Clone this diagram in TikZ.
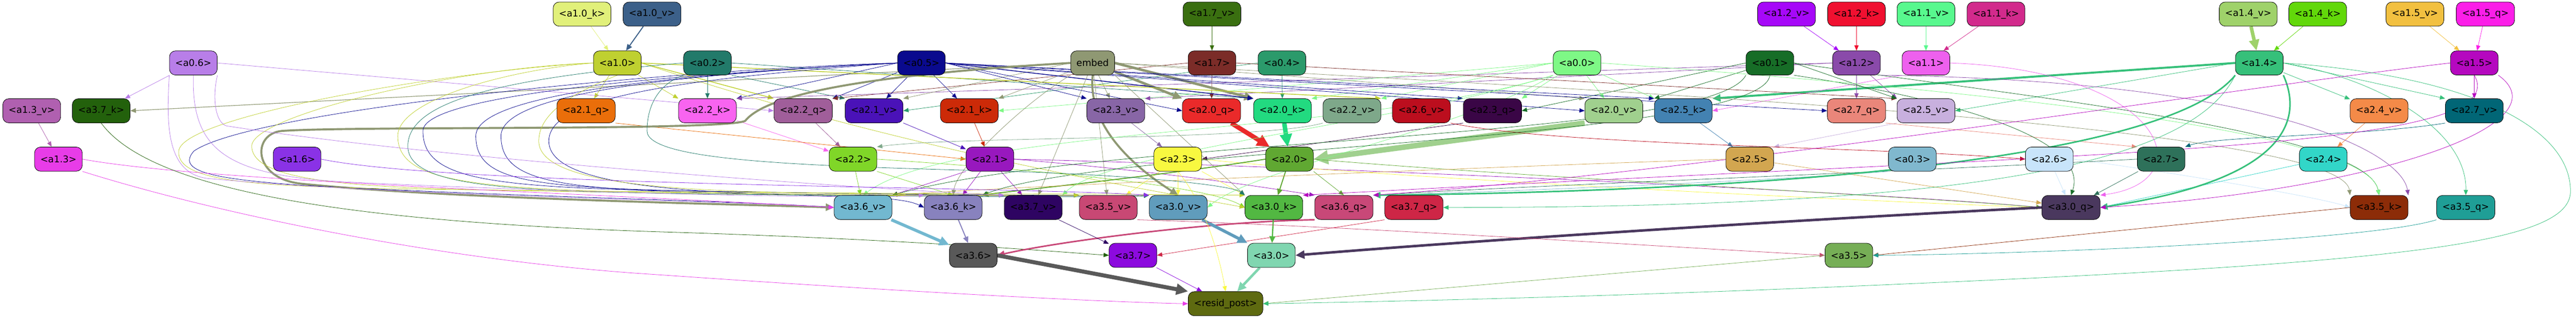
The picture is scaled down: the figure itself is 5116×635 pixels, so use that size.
\documentclass[tikz,border=0pt]{standalone}
\usepackage{fontspec}
\setmainfont{DejaVu Sans}
\usetikzlibrary{arrows.meta,backgrounds}

% Farben der Knoten
\definecolor{c10k}{HTML}{E1F07A}
\definecolor{c10v}{HTML}{3C6089}
\definecolor{c17v}{HTML}{3A6F10}
\definecolor{c12v}{HTML}{A608F8}
\definecolor{c12k}{HTML}{F01030}
\definecolor{c11v}{HTML}{58F88E}
\definecolor{c11k}{HTML}{D22A8C}
\definecolor{c14v}{HTML}{9FD26A}
\definecolor{c14k}{HTML}{62D80A}
\definecolor{c15v}{HTML}{F2C040}
\definecolor{c15q}{HTML}{FB1EE8}
\definecolor{c06}{HTML}{B87EE8}
\definecolor{c10}{HTML}{BFD030}
\definecolor{c02}{HTML}{227A6A}
\definecolor{c05}{HTML}{0A0A8E}
\definecolor{cemb}{HTML}{8F9873}
\definecolor{c17}{HTML}{7B2C28}
\definecolor{c04}{HTML}{2B9A6B}
\definecolor{c00}{HTML}{7EF886}
\definecolor{c01}{HTML}{176D27}
\definecolor{c12}{HTML}{8A4AAA}
\definecolor{c11}{HTML}{EE60EE}
\definecolor{c14}{HTML}{36C07A}
\definecolor{c15}{HTML}{B508BF}
\definecolor{c13v}{HTML}{B060B0}
\definecolor{c37k}{HTML}{23610C}
\definecolor{c21q}{HTML}{EA6E0A}
\definecolor{c22k}{HTML}{F864F0}
\definecolor{c22q}{HTML}{A05E9A}
\definecolor{c21v}{HTML}{4A12B8}
\definecolor{c21k}{HTML}{CC2A08}
\definecolor{c23v}{HTML}{8866A6}
\definecolor{c20q}{HTML}{EA2A2A}
\definecolor{c20k}{HTML}{22DA80}
\definecolor{c22v}{HTML}{7EA88A}
\definecolor{c26v}{HTML}{BC0E1E}
\definecolor{c23q}{HTML}{3A0646}
\definecolor{c20v}{HTML}{A0D08E}
\definecolor{c25k}{HTML}{4382B2}
\definecolor{c27q}{HTML}{EA867A}
\definecolor{c25v}{HTML}{C8B0DE}
\definecolor{c24v}{HTML}{F48A48}
\definecolor{c27v}{HTML}{016676}
\definecolor{c13}{HTML}{E83CE8}
\definecolor{c16}{HTML}{8A32E6}
\definecolor{c22}{HTML}{80D628}
\definecolor{c21}{HTML}{9818BE}
\definecolor{c23}{HTML}{F8F840}
\definecolor{c20}{HTML}{60A832}
\definecolor{c25}{HTML}{D2A650}
\definecolor{c03}{HTML}{80B8CE}
\definecolor{c26}{HTML}{C8E4FA}
\definecolor{c27}{HTML}{2E715A}
\definecolor{c24}{HTML}{32D6C8}
\definecolor{c36v}{HTML}{72B8D0}
\definecolor{c36k}{HTML}{8882BE}
\definecolor{c37v}{HTML}{2E0462}
\definecolor{c35v}{HTML}{C84874}
\definecolor{c30v}{HTML}{609CBC}
\definecolor{c30k}{HTML}{52B842}
\definecolor{c36q}{HTML}{C84878}
\definecolor{c37q}{HTML}{CE2646}
\definecolor{c30q}{HTML}{4A385E}
\definecolor{c35k}{HTML}{8C2C08}
\definecolor{c35q}{HTML}{1F9E96}
\definecolor{c36}{HTML}{595959}
\definecolor{c37}{HTML}{8C0ADE}
\definecolor{c30}{HTML}{80D6B0}
\definecolor{c35}{HTML}{76AE56}
\definecolor{cres}{HTML}{5E6A10}

\tikzset{
  knoten/.style={draw=black, line width=0.8pt, rounded corners=12pt, minimum height=48pt,
    inner xsep=11.5pt, font=\fontsize{18.5}{20}\selectfont},
  kante/.style={-{Triangle[length=9pt 1.8, width=7pt 1.8]}, line width=0.8pt}
}

\begin{document}
\begin{tikzpicture}[x=1pt, y=-1pt]
        \useasboundingbox (0,0) rectangle (5116,635);

        % zeichne oberste Reihe
        \node[knoten, fill=c10k] (a10k) at (1156,28) {<a1.0\_k>};
        \node[knoten, fill=c10v] (a10v) at (1295,28) {<a1.0\_v>};
        \node[knoten, fill=c17v] (a17v) at (2407,28) {<a1.7\_v>};
        \node[knoten, fill=c12v] (a12v) at (3548,28) {<a1.2\_v>};
        \node[knoten, fill=c12k] (a12k) at (3687,28) {<a1.2\_k>};
        \node[knoten, fill=c11v] (a11v) at (3825,28) {<a1.1\_v>};
        \node[knoten, fill=c11k] (a11k) at (3964,28) {<a1.1\_k>};
        \node[knoten, fill=c14v] (a14v) at (4465,28) {<a1.4\_v>};
        \node[knoten, fill=c14k] (a14k) at (4603,28) {<a1.4\_k>};
        \node[knoten, fill=c15v] (a15v) at (4796,28) {<a1.5\_v>};
        \node[knoten, fill=c15q] (a15q) at (4936,28) {<a1.5\_q>};

        % zeichne zweite Reihe
        \node[knoten, fill=c06] (a06) at (384,125) {<a0.6>};
        \node[knoten, fill=c10] (a10) at (1226,125) {<a1.0>};
        \node[knoten, fill=c02] (a02) at (1405,125) {<a0.2>};
        \node[knoten, fill=c05] (a05) at (1830,125) {<a0.5>};
        \node[knoten, fill=cemb] (embed) at (2170,125) {embed};
        \node[knoten, fill=c17] (a17) at (2407,125) {<a1.7>};
        \node[knoten, fill=c04] (a04) at (2546,125) {<a0.4>};
        \node[knoten, fill=c00] (a00) at (3132,125) {<a0.0>};
        \node[knoten, fill=c01] (a01) at (3515,125) {<a0.1>};
        \node[knoten, fill=c12] (a12) at (3687,125) {<a1.2>};
        \node[knoten, fill=c11] (a11) at (3825,125) {<a1.1>};
        \node[knoten, fill=c14] (a14) at (4487,125) {<a1.4>};
        \node[knoten, fill=c15] (a15) at (4914,125) {<a1.5>};

        % zeichne dritte Reihe
        \node[knoten, fill=c13v] (a13v) at (63,220) {<a1.3\_v>};
        \node[knoten, fill=c37k] (a37k) at (201,220) {<a3.7\_k>};
        \node[knoten, fill=c21q] (a21q) at (1164,220) {<a2.1\_q>};
        \node[knoten, fill=c22k] (a22k) at (1405,220) {<a2.2\_k>};
        \node[knoten, fill=c22q] (a22q) at (1595,220) {<a2.2\_q>};
        \node[knoten, fill=c21v] (a21v) at (1736,220) {<a2.1\_v>};
        \node[knoten, fill=c21k] (a21k) at (1925,220) {<a2.1\_k>};
        \node[knoten, fill=c23v] (a23v) at (2216,220) {<a2.3\_v>};
        \node[knoten, fill=c20q] (a20q) at (2406,220) {<a2.0\_q>};
        \node[knoten, fill=c20k] (a20k) at (2547,220) {<a2.0\_k>};
        \node[knoten, fill=c22v] (a22v) at (2685,220) {<a2.2\_v>};
        \node[knoten, fill=c26v] (a26v) at (2823,220) {<a2.6\_v>};
        \node[knoten, fill=c23q] (a23q) at (2964,220) {<a2.3\_q>};
        \node[knoten, fill=c20v] (a20v) at (3205,220) {<a2.0\_v>};
        \node[knoten, fill=c25k] (a25k) at (3343,220) {<a2.5\_k>};
        \node[knoten, fill=c27q] (a27q) at (3687,220) {<a2.7\_q>};
        \node[knoten, fill=c25v] (a25v) at (3825,220) {<a2.5\_v>};
        \node[knoten, fill=c24v] (a24v) at (4725,220) {<a2.4\_v>};
        \node[knoten, fill=c27v] (a27v) at (4914,220) {<a2.7\_v>};

        % zeichne vierte Reihe
        \node[knoten, fill=c13] (a13) at (116,316) {<a1.3>};
        \node[knoten, fill=c16] (a16) at (590,316) {<a1.6>};
        \node[knoten, fill=c22] (a22) at (1694,316) {<a2.2>};
        \node[knoten, fill=c21] (a21) at (1966,316) {<a2.1>};
        \node[knoten, fill=c23] (a23) at (2339,316) {<a2.3>};
        \node[knoten, fill=c20] (a20) at (2561,316) {<a2.0>};
        \node[knoten, fill=c25] (a25) at (3475,316) {<a2.5>};
        \node[knoten, fill=c03] (a03) at (3798,316) {<a0.3>};
        \node[knoten, fill=c26] (a26) at (4070,316) {<a2.6>};
        \node[knoten, fill=c27] (a27) at (4292,316) {<a2.7>};
        \node[knoten, fill=c24] (a24) at (4614,316) {<a2.4>};

        % zeichne fuenfte Reihe
        \node[knoten, fill=c36v] (a36v) at (1714,412) {<a3.6\_v>};
        \node[knoten, fill=c36k] (a36k) at (1893,412) {<a3.6\_k>};
        \node[knoten, fill=c37v] (a37v) at (2052,412) {<a3.7\_v>};
        \node[knoten, fill=c35v] (a35v) at (2201,412) {<a3.5\_v>};
        \node[knoten, fill=c30v] (a30v) at (2340,412) {<a3.0\_v>};
        \node[knoten, fill=c30k] (a30k) at (2530,412) {<a3.0\_k>};
        \node[knoten, fill=c36q] (a36q) at (2669,412) {<a3.6\_q>};
        \node[knoten, fill=c37q] (a37q) at (2808,412) {<a3.7\_q>};
        \node[knoten, fill=c30q] (a30q) at (4113,412) {<a3.0\_q>};
        \node[knoten, fill=c35k] (a35k) at (4725,412) {<a3.5\_k>};
        \node[knoten, fill=c35q] (a35q) at (4897,412) {<a3.5\_q>};

        % zeichne untere Reihen
        \node[knoten, fill=c36] (a36) at (1933,507) {<a3.6>};
        \node[knoten, fill=c37] (a37) at (2250,507) {<a3.7>};
        \node[knoten, fill=c30] (a30) at (2525,507) {<a3.0>};
        \node[knoten, fill=c35] (a35) at (3672,507) {<a3.5>};
        \node[knoten, fill=cres] (resid) at (2434,603) {<resid\_post>};

        \begin{pgfonlayer}{background}
        % Kanten der obersten Reihe
        \draw[kante, c10k] (a10k) -- (a10);
        \draw[kante, c10v, line width=2pt] (a10v) -- (a10);
        \draw[kante, c17v] (a17v) -- (a17);
        \draw[kante, c12v] (a12v) -- (a12);
        \draw[kante, c12k] (a12k) -- (a12);
        \draw[kante, c11v] (a11v) -- (a11);
        \draw[kante, c11k] (a11k) -- (a11);
        \draw[kante, c14v, line width=7pt] (a14v) -- (a14);
        \draw[kante, c14k] (a14k) -- (a14);
        \draw[kante, c15v] (a15v) -- (a15);
        \draw[kante, c15q] (a15q) -- (a15);
        \draw[kante, c13v] (a13v) -- (a13);

        % Kanten in die a2-Reihe
        \draw[kante, c06] (a06) -- (a37k);
        \draw[kante, cemb, line width=1.2pt] (embed.west) -- (a37k.east);
        \draw[kante, c10] (a10) -- (a21q);
        \draw[kante, c10] (a10) -- (a22k.north west);
        \draw[kante, c10, line width=1.5pt] (a10.east) -- (a22q.north west);
        \draw[kante, c02] (a02) -- (a22k);
        \draw[kante, c02] (a02.south east) -- (a21v.north west);
        \draw[kante, c02] (a02.east) -- (a20k.north west);
        \draw[kante, c05] (a05.west) -- (a22k.north east);
        \draw[kante, c05] (a05) -- (a22q.north east);
        \draw[kante, c17] (a17.west) -- (a22q.north east);
        \draw[kante, c06] (a06.east) -- (a22q.west);
        \draw[kante, c12] (a12.west) -- (a22k.north east);
        \draw[kante, c05] (a05) -- (a21v);
        \draw[kante, cemb] (embed.west) -- (a21v.north east);
        \draw[kante, c04] (a04.west) -- (a21v.east);
        \draw[kante, c05] (a05) -- (a21k);
        \draw[kante, cemb] (embed) -- (a21k.north east);
        \draw[kante, c00] (a00.west) -- (a21k.east);
        \draw[kante, cemb] (embed) -- (a23v);
        \draw[kante, c05] (a05.east) -- (a23v.north west);
        \draw[kante, c12] (a12.west) -- (a23v.north east);
        \draw[kante, cemb, line width=5pt] (embed) -- (a20q.north west);
        \draw[kante, c17] (a17) -- (a20q);
        \draw[kante, c05] (a05.east) -- (a20q.west);
        \draw[kante, cemb, line width=5pt] (embed.east) -- (a20k.north west);
        \draw[kante, c04] (a04) -- (a20k);
        \draw[kante, c05, line width=1.5pt] (a05.east) -- (a20k.north west);
        \draw[kante, c00] (a00.west) -- (a20k.north east);
        \draw[kante, c00] (a00.west) -- (a22v.north east);
        \draw[kante, c10, line width=1.5pt] (a10.east) -- (a22v.north east);
        \draw[kante, c05] (a05.east) -- (a23q.north west);
        \draw[kante, c00] (a00) -- (a23q.north east);
        \draw[kante, c01] (a01.west) -- (a23q.east);
        \draw[kante, cemb] (embed.east) -- (a20v.north west);
        \draw[kante, c05] (a05.east) -- (a20v.west);
        \draw[kante, c00] (a00) -- (a20v);
        \draw[kante, c01] (a01) -- (a25k.north west);
        \draw[kante, c00] (a00) -- (a25k.north west);
        \draw[kante, c05] (a05.east) -- (a25k.north west);
        \draw[kante, c14, line width=4pt] (a14.west) -- (a25k.north east);
        \draw[kante, c11] (a11.south west) -- (a25k.east);
        \draw[kante, c05] (a05.east) -- (a27q.west);
        \draw[kante, c12] (a12) -- (a27q);
        \draw[kante, c17] (a17.east) -- (a25v.north west);
        \draw[kante, c12] (a12) -- (a25v.north west);
        \draw[kante, c14] (a14.west) -- (a25v.east);
        \draw[kante, c01] (a01.east) -- (a25v.north west);
        \draw[kante, c14] (a14) -- (a24v);
        \draw[kante, c14] (a14.east) -- (a27v.north west);
        \draw[kante, c15] (a15) -- (a27v);

        % Kanten in die vierte Reihe
        \draw[kante, c22k] (a22k) -- (a22);
        \draw[kante, c22q] (a22q) -- (a22);
        \draw[kante, c22v] (a22v.south west) .. controls (2500,280) and (1900,270) .. (a22.north east);
        \draw[kante, c21v] (a21v) -- (a21);
        \draw[kante, c21k] (a21k) -- (a21);
        \draw[kante, c21q] (a21q.south east) -- (a21.west);
        \draw[kante, c23v] (a23v) -- (a23);
        \draw[kante, c23q] (a23q.south west) -- (a23.east);
        \draw[kante, c20q, line width=9pt] (a20q) -- (a20);
        \draw[kante, c20k, line width=9pt] (a20k) -- (a20);
        \draw[kante, c20v, line width=11pt] (a20v.south west) -- (a20.east);
        \draw[kante, c25k] (a25k) -- (a25);
        \draw[kante, c25v] (a25v.south west) -- (a25.north east);
        \draw[kante, c26v] (a26v.south east) .. controls (3100,290) and (3700,290) .. (a26.west);
        \draw[kante, c27q] (a27q.south east) -- (a27.north west);
        \draw[kante, c27v] (a27v.south west) .. controls (4700,270) and (4400,270) .. (a27.north east);
        \draw[kante, c24v] (a24v) -- (a24);

        % Kanten in die fuenfte Reihe
        \draw[kante, c22] (a22) -- (a36v);
        \draw[kante, c22] (a22.south east) -- (a36k.north);
        \draw[kante, c22] (a22.east) .. controls (2100,340) and (2400,370) .. (a30k.west);
        \draw[kante, c21] (a21) -- (a36k);
        \draw[kante, c21] (a21) -- (a37v);
        \draw[kante, c21] (a21.south west) -- (a36v.north east);
        \draw[kante, c21] (a21.east) .. controls (2300,340) and (2500,370) .. (a36q.north west);
        \draw[kante, c21] (a21.east) .. controls (2600,330) and (3700,380) .. (a30q.west);
        \draw[kante, c23] (a23) -- (a35v);
        \draw[kante, c23] (a23) -- (a30v);
        \draw[kante, c23] (a23.south east) -- (a30k.north west);
        \draw[kante, c23] (a23.east) .. controls (2700,350) and (3700,400) .. (a30q.west);
        \draw[kante, c20, line width=2pt] (a20) -- (a30k);
        \draw[kante, c20, line width=2pt] (a20.west) .. controls (2300,350) and (2000,380) .. (a36k.north east);
        \draw[kante, c20] (a20.south east) -- (a36q.north);
        \draw[kante, c20] (a20.east) .. controls (3000,350) and (3800,390) .. (a30q.west);
        \draw[kante, c25] (a25) -- (a30q);
        \draw[kante, c25] (a25.west) .. controls (3000,330) and (2000,370) .. (a36v.north east);
        \draw[kante, c26] (a26) -- (a30q);
        \draw[kante, c26] (a26.east) .. controls (4300,340) and (4600,390) .. (a35k.west);
        \draw[kante, c27] (a27) -- (a30q);
        \draw[kante, c27] (a27.west) .. controls (3800,340) and (3000,370) .. (a36q.north east);
        \draw[kante, c24] (a24) -- (a30q.east);
        \draw[kante, c03] (a03.south west) .. controls (3500,360) and (3000,380) .. (a36q.north east);

        % lange Kanten von oben
        \draw[kante, cemb] (embed) -- (a37v);
        \draw[kante, cemb] (embed) -- (a35v);
        \draw[kante, cemb, line width=4pt] (embed.south) .. controls (2160,250) and (2250,330) .. (a30v.north);
        \draw[kante, cemb] (embed.south east) -- (a30k.north west);
        \draw[kante, cemb] (embed.south west) .. controls (2040,200) and (1900,330) .. (a36k.north);
        \draw[kante, c00] (a00.south west) .. controls (2900,260) and (2500,330) .. (a30v.east);
        \draw[kante, c00] (a00.south west) .. controls (2800,240) and (2200,300) .. (a37v.north east);
        \draw[kante, c00] (a00.south west) .. controls (2700,270) and (1900,250) .. (a36v.north);
        \draw[kante, c01] (a01.south west) .. controls (3400,280) and (2200,270) .. (a36v.north east);
        \draw[kante, c01] (a01.south) .. controls (3500,280) and (2200,290) .. (a36k.north east);
        \draw[kante, c01] (a01.south east) .. controls (3900,200) and (4150,280) .. (a30q.north);
        \draw[kante, c01] (a01.east) .. controls (4000,190) and (4700,260) .. (a35k.north);
        \draw[kante, c00] (a00.east) .. controls (3800,170) and (4700,250) .. (a35k.north);
        \draw[kante, cemb] (embed.east) .. controls (3200,180) and (4650,250) .. (a35k.north west);
        \draw[kante, c12] (a12.south east) .. controls (4500,160) and (4770,300) .. (a35k.north east);
        \draw[kante, c11] (a11.east) .. controls (4300,140) and (4380,360) .. (a30q.north east);
        \draw[kante, c14, line width=3pt] (a14.south east) .. controls (4580,250) and (4520,360) .. (a30q.east);
        \draw[kante, c14, line width=3pt] (a14.south west) .. controls (4300,320) and (3500,380) .. (a36q.north east);
        \draw[kante, c14] (a14.south west) .. controls (4350,330) and (3900,412) .. (a37q.east);
        \draw[kante, c14] (a14.east) .. controls (4700,150) and (4900,250) .. (a35q.north);
        \draw[kante, c15] (a15.west) .. controls (4400,180) and (3400,340) .. (a36q.north east);
        \draw[kante, c15] (a15.south east) .. controls (5100,250) and (4700,380) .. (a30q.east);
        \draw[kante, c15] (a15.south) .. controls (5000,300) and (4200,300) .. (a30k.north east);
        \draw[kante, c10] (a10.east) .. controls (1800,300) and (2300,380) .. (a30k.west);

        % Schleifen links
        \draw[kante, cemb, line width=4pt] (embed.west) .. controls (1700,150) and (1520,190) .. (1480,240)
            .. controls (1440,260) and (700,250) .. (560,260) .. controls (500,265) and (500,355) .. (600,365)
            .. controls (900,395) and (1450,405) .. (a36v.west);
        \draw[kante, c05] (a05.west) .. controls (1300,140) and (500,220) .. (385,300)
            .. controls (350,340) and (420,355) .. (600,368) .. controls (1000,390) and (1500,400) .. (a36v.west);
        \draw[kante, c05] (a05.west) .. controls (1300,150) and (840,190) .. (840,260)
            .. controls (840,350) and (950,370) .. (1300,378) .. controls (1700,385) and (1950,388) .. (a37v.north west);
        \draw[kante, c05] (a05.west) .. controls (1300,150) and (945,190) .. (945,270)
            .. controls (945,360) and (1050,372) .. (1400,380) .. controls (1800,386) and (2100,388) .. (a35v.north west);
        \draw[kante, c05] (a05.west) .. controls (1300,150) and (995,190) .. (995,270)
            .. controls (995,360) and (1100,376) .. (1450,384) .. controls (1900,390) and (2200,390) .. (a30v.north west);
        \draw[kante, c05] (a05.west) .. controls (1300,160) and (1090,200) .. (1090,280)
            .. controls (1090,360) and (1300,380) .. (1600,388) .. controls (1750,392) and (1800,395) .. (a36k.west);
        \draw[kante, c10] (a10.west) .. controls (900,140) and (360,230) .. (355,300)
            .. controls (350,360) and (500,370) .. (800,375) .. controls (1500,385) and (2300,385) .. (a30k.north west);
        \draw[kante, c10] (a10.west) .. controls (900,135) and (500,230) .. (500,290)
            .. controls (500,360) and (700,372) .. (1000,378) .. controls (1400,385) and (1700,390) .. (a36k.north west);
        \draw[kante, c10] (a10.west) .. controls (1000,140) and (790,200) .. (790,270)
            .. controls (790,350) and (900,370) .. (1200,380) .. controls (1700,388) and (2100,390) .. (a35v.north west);
        \draw[kante, c10] (a10.south) .. controls (1150,180) and (1070,220) .. (1070,280)
            .. controls (1070,360) and (1300,378) .. (1600,383) .. controls (2000,388) and (2250,390) .. (a30v.north west);
        \draw[kante, c02] (a02.west) .. controls (1000,155) and (810,200) .. (810,290)
            .. controls (810,370) and (1000,380) .. (1400,385) .. controls (1900,392) and (2250,392) .. (a30v.north west);
        \draw[kante, c02] (a02.south west) .. controls (1300,170) and (1285,220) .. (1285,260)
            .. controls (1285,320) and (1600,330) .. (2000,340) .. controls (2300,350) and (2450,370) .. (a30k.north west);
        \draw[kante, c06] (a06.south west) .. controls (330,250) and (330,350) .. (420,355)
            .. controls (800,390) and (1500,400) .. (a36v.west);
        \draw[kante, c06] (a06.south) .. controls (380,300) and (450,350) .. (700,362)
            .. controls (1200,385) and (1700,395) .. (a36k.north west);
        \draw[kante, c06] (a06.south east) .. controls (420,200) and (430,245) .. (450,250)
            .. controls (900,320) and (1800,380) .. (a37v.north west);
        \draw[kante, c13] (a13.east) .. controls (400,360) and (1200,385) .. (a36v.west);
        \draw[kante, c16] (a16.east) .. controls (900,370) and (2000,370) .. (a30v.north west);
        \draw[kante, c37k] (a37k.south) .. controls (300,380) and (700,440) .. (1300,460)
            .. controls (1800,475) and (2100,500) .. (a37.west);

        % Kanten in die sechste Reihe
        \draw[kante, c36v, line width=6pt] (a36v) -- (a36);
        \draw[kante, c36k, line width=2pt] (a36k) -- (a36);
        \draw[kante, c36q, line width=3pt] (a36q.south west) .. controls (2400,440) and (2100,480) .. (a36.east);
        \draw[kante, c37v] (a37v) -- (a37);
        \draw[kante, c37q] (a37q.south west) .. controls (2600,460) and (2400,490) .. (a37.east);
        \draw[kante, c30v, line width=6pt] (a30v) -- (a30);
        \draw[kante, c30k, line width=2.5pt] (a30k) -- (a30);
        \draw[kante, c30q, line width=5pt] (a30q.west) .. controls (3500,440) and (2900,480) .. (a30.east);
        \draw[kante, c35v] (a35v.south east) .. controls (2700,450) and (3300,490) .. (a35.west);
        \draw[kante, c35k] (a35k.west) -- (a35.east);
        \draw[kante, c35q] (a35q.south west) .. controls (4700,480) and (4000,505) .. (a35.east);

        % Kanten zu resid_post
        \draw[kante, c36, line width=8pt] (a36.east) -- (resid.north west);
        \draw[kante, c37] (a37) -- (resid);
        \draw[kante, c30, line width=5pt] (a30) -- (resid);
        \draw[kante, c35] (a35.west) -- (resid.east);
        \draw[kante, c23] (a23.south) .. controls (2390,400) and (2420,500) .. (resid.north);
        \draw[kante, c13] (a13.south east) .. controls (450,430) and (900,520) .. (1300,545)
            .. controls (1800,580) and (2200,600) .. (resid.west);
        \draw[kante, c14] (a14.east) .. controls (4900,150) and (5105,250) .. (5105,380)
            .. controls (5105,480) and (4800,520) .. (3800,563) .. controls (3200,590) and (2700,600) .. (resid.east);
        \end{pgfonlayer}
    \end{tikzpicture}
\end{document}
